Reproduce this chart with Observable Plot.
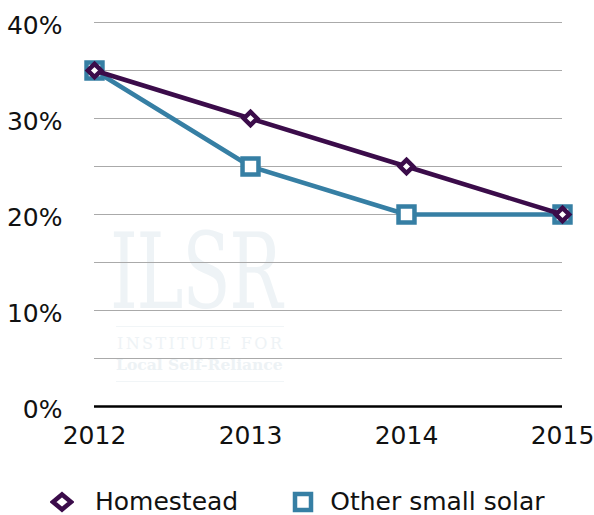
<!DOCTYPE html>
<html>
<head>
<meta charset="utf-8">
<script src="https://cdn.jsdelivr.net/npm/d3@7"></script>
<script src="https://cdn.jsdelivr.net/npm/@observablehq/plot@0.6"></script>
<style>
  html, body { margin: 0; padding: 0; background: #fff; }
  body { width: 594px; height: 515px; overflow: hidden; font-family: "DejaVu Sans", sans-serif; }
  #wrap { position: relative; width: 594px; }
  #wm { position: absolute; left: 0; top: 0; width: 594px; height: 460px; pointer-events: none; }
  #chart { position: relative; }
  #chart svg { background: transparent !important; }
  .legend { display: flex; align-items: center; height: 26px; line-height: 26px; padding-top: 29px; padding-left: 50px; font-size: 25px; color: #111; }
  .legend .item { display: flex; align-items: center; }
  .legend svg { display: block; }
</style>
</head>
<body>
<div id="wrap">
  <div id="wm">
    <div style="position:absolute;left:110px;top:220px;font-family:'DejaVu Serif',serif;font-size:104px;line-height:104px;color:#eef3f6;transform:scaleX(0.68);transform-origin:left top;letter-spacing:-2px;">ILSR</div>
    <div style="position:absolute;left:117px;top:336px;font-family:'DejaVu Serif',serif;font-size:16px;line-height:16px;color:#eef3f6;letter-spacing:2.4px;white-space:nowrap;">INSTITUTE FOR</div>
    <div style="position:absolute;left:116px;top:357px;font-family:'DejaVu Serif',serif;font-weight:bold;font-size:15.5px;line-height:16px;color:#edf2f5;white-space:nowrap;">Local Self-Reliance</div>
    <div style="position:absolute;left:116px;top:326px;width:168px;height:1px;background:#f1f5f7;"></div>
    <div style="position:absolute;left:116px;top:381px;width:168px;height:1px;background:#f1f5f7;"></div>
  </div>
  <div id="chart"></div>
</div>
<div class="legend">
  <div class="item">
    <svg width="24" height="24" viewBox="-12 -12 24 24"><path d="M0,-7.5L9,0L0,7.5L-9,0Z" fill="#fff" stroke="#3b0c4a" stroke-width="4.5"/></svg>
    <span style="margin-left:21px">Homestead</span>
  </div>
  <div class="item" style="margin-left:53px">
    <svg width="24" height="24" viewBox="-12 -12 24 24"><rect x="-8" y="-8" width="16" height="16" fill="#fff" stroke="#367fa4" stroke-width="4.5"/></svg>
    <span style="margin-left:15px">Other small solar</span>
  </div>
</div>
<script>
const years = [2012, 2013, 2014, 2015];
const homestead = [0.35, 0.30, 0.25, 0.20];
const otherSmallSolar = [0.35, 0.25, 0.20, 0.20];
const yTickLabels = [0, 0.1, 0.2, 0.3, 0.4];
const gridValues = [0, 0.05, 0.1, 0.15, 0.2, 0.25, 0.3, 0.35, 0.4];

const purple = "#3b0c4a";
const teal = "#367fa4";

const homeData = years.map((y, i) => ({year: y, value: homestead[i]}));
const otherData = years.map((y, i) => ({year: y, value: otherSmallSolar[i]}));

const chart = Plot.plot({
  width: 594,
  height: 460,
  marginLeft: 94,
  marginRight: 32,
  marginTop: 22,
  marginBottom: 54,
  style: {fontFamily: "DejaVu Sans, sans-serif", background: "transparent", color: "#111"},
  x: {domain: [2012, 2015]},
  y: {domain: [0, 0.4]},
  marks: [
    Plot.ruleY(gridValues.filter(v => v > 0), {stroke: "#aaaaaa", strokeWidth: 1}),
    Plot.ruleY([0], {stroke: "#000", strokeWidth: 2.5}),
    Plot.axisY({ticks: yTickLabels, tickFormat: d => Math.round(d * 100) + "%", tickSize: 0, tickPadding: 32, fontSize: 25, dy: 3, label: null}),
    Plot.axisX({ticks: years, tickFormat: d => String(d), tickSize: 0, tickPadding: 20, fontSize: 25, label: null}),
    Plot.line(otherData, {x: "year", y: "value", stroke: teal, strokeWidth: 4.5}),
    Plot.dot(otherData, {x: "year", y: "value", symbol: "square", r: 9, fill: "#fff", stroke: teal, strokeWidth: 4.5}),
    Plot.line(homeData, {x: "year", y: "value", stroke: purple, strokeWidth: 4.5}),
    Plot.dot(homeData, {x: "year", y: "value", symbol: "diamond2", r: 6, fill: "#fff", stroke: purple, strokeWidth: 4.5})
  ]
});
document.getElementById("chart").appendChild(chart);
</script>
</body>
</html>
